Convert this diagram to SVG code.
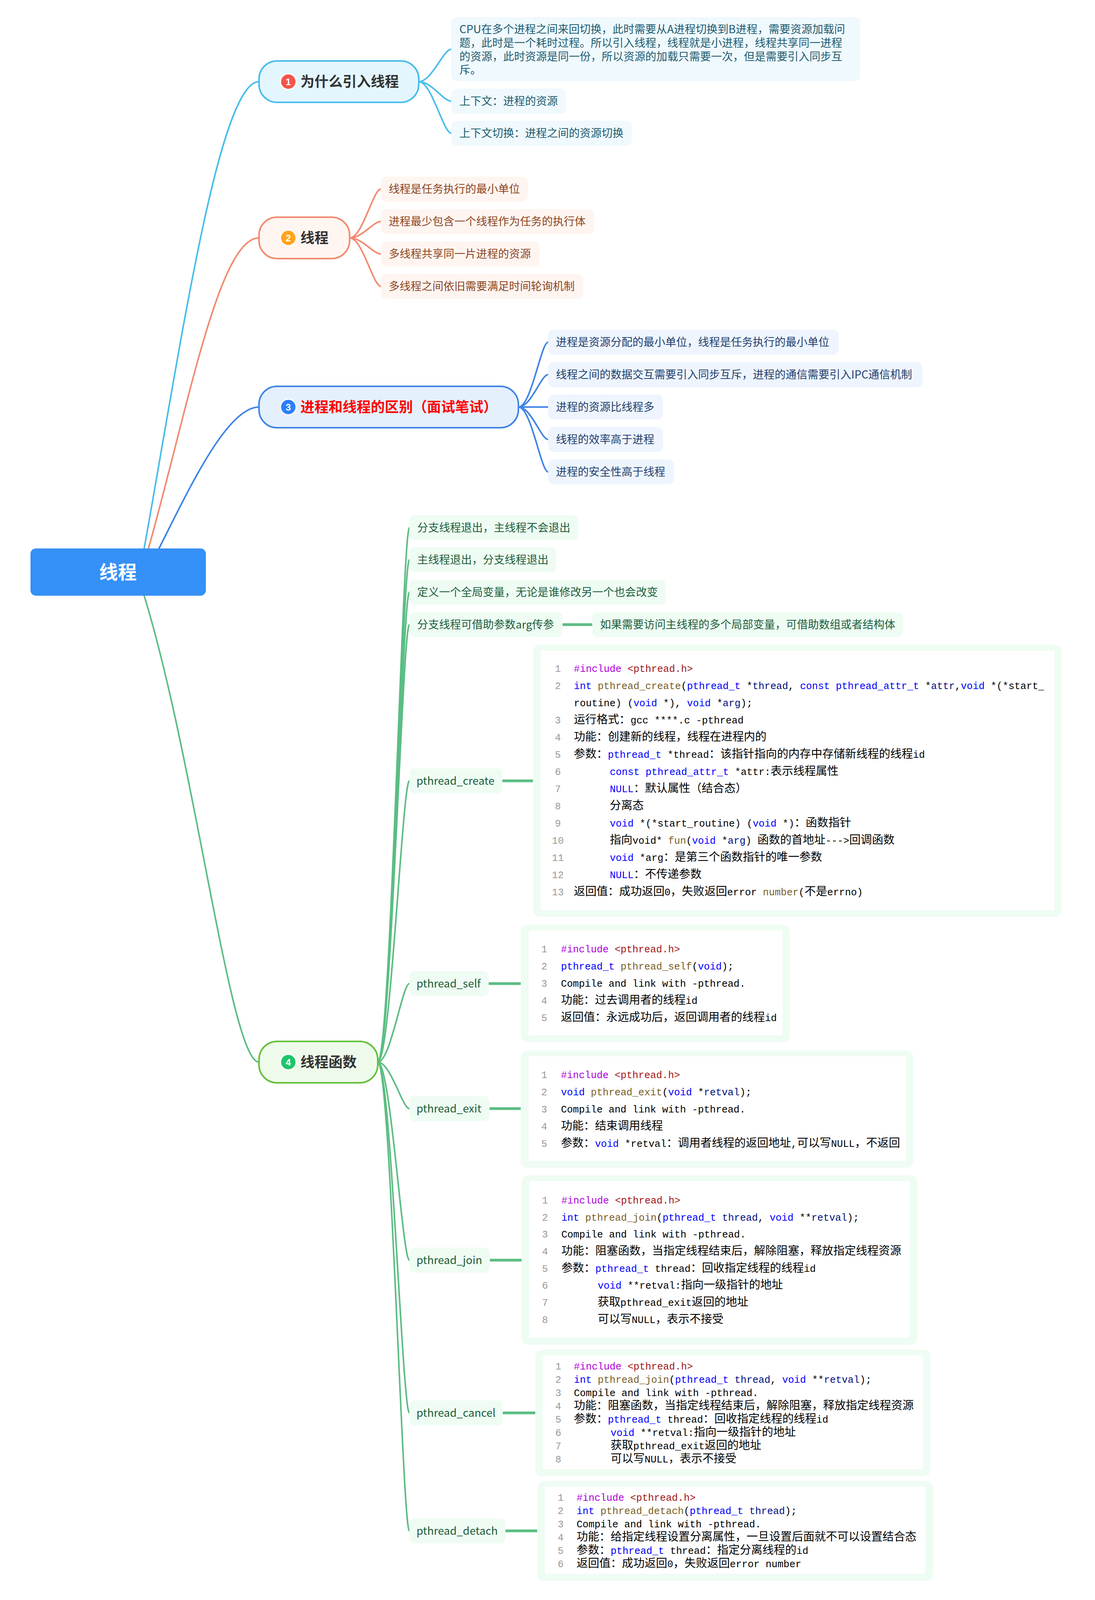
<svg xmlns="http://www.w3.org/2000/svg" width="2803" height="4297" viewBox="0 0 2803 4297">
<style>
.lk{fill:none;stroke-width:4;stroke-linecap:round}
.b1{stroke:#47bdea}.b2{stroke:#f28a6f}.b3{stroke:#3f84e6}.b4{stroke:#5bbd83}
.bar{stroke:#5bbd83;stroke-width:7}
.nt{font-family:"Noto Sans CJK SC","Noto Sans",sans-serif;font-size:36px;font-weight:bold;fill:#333}
.bd{font-family:"Liberation Sans",Arial,sans-serif;font-size:24px;font-weight:bold;fill:#fff;text-anchor:middle}
.t{font-family:"Noto Sans CJK SC","Noto Sans",sans-serif;font-size:28px}
.f1{fill:#f0f9fd}.f2{fill:#fef5f1}.f3{fill:#eef5fe}.f4{fill:#effcf3}
.c1{fill:#1b5b70}.c2{fill:#8c4521}.c3{fill:#223f6e}.c4{fill:#1b5e3b}
.c{font-family:"Liberation Mono","Noto Sans CJK SC",monospace;font-size:25.4px;fill:#000}
.ln{fill:#999;text-anchor:middle}
.z{font-family:"Noto Sans CJK SC",sans-serif;font-size:29px}
.kw{fill:#0000ff}.fn{fill:#795e26}.pm{fill:#001080}.mt{fill:#af00db}.st{fill:#a31515}
.ob{fill:#effcf3}.ib{fill:#ffffff}
</style>
<rect width="2803" height="4297" fill="#ffffff"/>
<g id="connectors">
<path class="lk b1" d="M369 1404 C460 900 560 209 663 209"/>
<path class="lk b2" d="M380 1404 C480 1050 560 609 663 609"/>
<path class="lk b3" d="M407 1404 C480 1260 580 1042 663 1042"/>
<path class="lk b4" d="M369 1525 C500 1950 590 2719 663 2719"/>
<path class="lk b1" d="M1072 209 C1105 209 1135 126 1155 126"/>
<path class="lk b1" d="M1072 209 C1105 209 1135 259 1155 259"/>
<path class="lk b1" d="M1072 209 C1105 209 1135 341 1155 341"/>
<path class="lk b2" d="M895 609 C928 609 955 484 975 484"/>
<path class="lk b2" d="M895 609 C928 609 955 567 975 567"/>
<path class="lk b2" d="M895 609 C928 609 955 650 975 650"/>
<path class="lk b2" d="M895 609 C928 609 955 733 975 733"/>
<path class="lk b3" d="M1327 1042 C1360 1042 1385 876 1403 876"/>
<path class="lk b3" d="M1327 1042 C1360 1042 1385 959 1403 959"/>
<path class="lk b3" d="M1327 1042 L1403 1042"/>
<path class="lk b3" d="M1327 1042 C1360 1042 1385 1125 1403 1125"/>
<path class="lk b3" d="M1327 1042 C1360 1042 1385 1208 1403 1208"/>
<path class="lk b4" d="M967 2719 C1000 2719 1030 1351 1048 1351"/>
<path class="lk b4" d="M967 2719 C1000 2719 1030 1433 1048 1433"/>
<path class="lk b4" d="M967 2719 C1000 2719 1030 1516 1048 1516"/>
<path class="lk b4" d="M967 2719 C1000 2719 1030 1599 1048 1599"/>
<path class="lk b4" d="M967 2719 C1000 2719 1030 1999 1048 1999"/>
<path class="lk b4" d="M967 2719 C1000 2719 1030 2518 1048 2518"/>
<path class="lk b4" d="M967 2719 C1000 2719 1030 2838 1048 2838"/>
<path class="lk b4" d="M967 2719 C1000 2719 1030 3226 1048 3226"/>
<path class="lk b4" d="M967 2719 C1000 2719 1030 3617 1048 3617"/>
<path class="lk b4" d="M967 2719 C1000 2719 1030 3919 1048 3919"/>
<line class="bar" x1="1440" y1="1599" x2="1516" y2="1599"/>
<line class="bar" x1="1286" y1="1999" x2="1364" y2="1999"/>
<line class="bar" x1="1251" y1="2518" x2="1333" y2="2518"/>
<line class="bar" x1="1253" y1="2838" x2="1333" y2="2838"/>
<line class="bar" x1="1254" y1="3226" x2="1335" y2="3226"/>
<line class="bar" x1="1287" y1="3617" x2="1370" y2="3617"/>
<line class="bar" x1="1294" y1="3919" x2="1375" y2="3919"/>
</g>
<g id="root">
<rect x="78" y="1404" width="449" height="121" rx="14" fill="#3590f7"/>
<text x="302" y="1482" font-family="Noto Sans CJK SC, sans-serif" font-size="48" font-weight="bold" fill="#fff" text-anchor="middle">线程</text>
</g>
<g id="node1">
<rect x="663" y="156" width="409" height="106" rx="46" fill="#e4f6fd" stroke="#47bdea" stroke-width="4"/>
<circle cx="738" cy="209" r="20" fill="#f4544a" stroke="#fff" stroke-width="3"/>
<text class="bd" x="738" y="217.5">1</text>
<text class="nt" x="769" y="222">为什么引入线程</text>
</g>
<g id="n1-a">
<rect class="f1" x="1155" y="44" width="1047" height="164" rx="14"/>
<text class="t c1" x="1176" y="85">CPU在多个进程之间来回切换，此时需要从A进程切换到B进程，需要资源加载问</text>
<text class="t c1" x="1176" y="120">题，此时是一个耗时过程。所以引入线程，线程就是小进程，线程共享同一进程</text>
<text class="t c1" x="1176" y="155">的资源，此时资源是同一份，所以资源的加载只需要一次，但是需要引入同步互</text>
<text class="t c1" x="1176" y="189">斥。</text>
</g>
<g id="n1-b"><rect class="f1" x="1155" y="227" width="294" height="64" rx="14"/><text class="t c1" x="1176" y="269">上下文：进程的资源</text></g>
<g id="n1-c"><rect class="f1" x="1155" y="309" width="462" height="64" rx="14"/><text class="t c1" x="1176" y="351">上下文切换：进程之间的资源切换</text></g>
<g id="node2">
<rect x="663" y="556" width="232" height="106" rx="46" fill="#fff5f1" stroke="#f28a6f" stroke-width="4"/>
<circle cx="738" cy="609" r="20" fill="#ffa41b" stroke="#fff" stroke-width="3"/>
<text class="bd" x="738" y="617.5">2</text>
<text class="nt" x="769" y="622">线程</text>
</g>
<g id="n2-a"><rect class="f2" x="975" y="452" width="376" height="64" rx="14"/><text class="t c2" x="995" y="494">线程是任务执行的最小单位</text></g>
<g id="n2-b"><rect class="f2" x="975" y="535" width="546" height="64" rx="14"/><text class="t c2" x="995" y="577">进程最少包含一个线程作为任务的执行体</text></g>
<g id="n2-c"><rect class="f2" x="975" y="618" width="406" height="64" rx="14"/><text class="t c2" x="995" y="660">多线程共享同一片进程的资源</text></g>
<g id="n2-d"><rect class="f2" x="975" y="701" width="518" height="64" rx="14"/><text class="t c2" x="995" y="743">多线程之间依旧需要满足时间轮询机制</text></g>
<g id="node3">
<rect x="663" y="989" width="664" height="106" rx="46" fill="#e5f0fd" stroke="#3f84e6" stroke-width="4"/>
<circle cx="738" cy="1042" r="20" fill="#2d7ff9" stroke="#fff" stroke-width="3"/>
<text class="bd" x="738" y="1050.5">3</text>
<text class="nt" x="769" y="1055" style="fill:#ff0000">进程和线程的区别（面试笔试）</text>
</g>
<g id="n3-a"><rect class="f3" x="1403" y="844" width="744" height="64" rx="14"/><text class="t c3" x="1423" y="886">进程是资源分配的最小单位，线程是任务执行的最小单位</text></g>
<g id="n3-b"><rect class="f3" x="1403" y="927" width="958" height="64" rx="14"/><text class="t c3" x="1423" y="969">线程之间的数据交互需要引入同步互斥，进程的通信需要引入IPC通信机制</text></g>
<g id="n3-c"><rect class="f3" x="1403" y="1010" width="294" height="64" rx="14"/><text class="t c3" x="1423" y="1052">进程的资源比线程多</text></g>
<g id="n3-d"><rect class="f3" x="1403" y="1093" width="294" height="64" rx="14"/><text class="t c3" x="1423" y="1135">线程的效率高于进程</text></g>
<g id="n3-e"><rect class="f3" x="1403" y="1176" width="322" height="64" rx="14"/><text class="t c3" x="1423" y="1218">进程的安全性高于线程</text></g>
<g id="node4">
<rect x="663" y="2666" width="304" height="106" rx="46" fill="#effbea" stroke="#63c03c" stroke-width="4"/>
<circle cx="738" cy="2719" r="20" fill="#1ec56a" stroke="#fff" stroke-width="3"/>
<text class="bd" x="738" y="2727.5">4</text>
<text class="nt" x="769" y="2732">线程函数</text>
</g>
<g id="n4-a"><rect class="f4" x="1048" y="1319" width="432" height="64" rx="14"/><text class="t c4" x="1068" y="1361">分支线程退出，主线程不会退出</text></g>
<g id="n4-b"><rect class="f4" x="1048" y="1401" width="376" height="64" rx="14"/><text class="t c4" x="1068" y="1443">主线程退出，分支线程退出</text></g>
<g id="n4-c"><rect class="f4" x="1048" y="1484" width="656" height="64" rx="14"/><text class="t c4" x="1068" y="1526">定义一个全局变量，无论是谁修改另一个也会改变</text></g>
<g id="n4-d"><rect class="f4" x="1048" y="1567" width="392" height="64" rx="14"/><text class="t c4" x="1068" y="1609">分支线程可借助参数arg传参</text></g>
<g id="n4-d1"><rect class="f4" x="1516" y="1567" width="796" height="64" rx="14"/><text class="t c4" x="1536" y="1609">如果需要访问主线程的多个局部变量，可借助数组或者结构体</text></g>
<g id="n4-create">
<rect class="f4" x="1048" y="1967" width="238" height="64" rx="14"/><text class="t c4" x="1066" y="2009">pthread_create</text>
<rect class="ob" x="1364" y="1650" width="1354" height="697" rx="18"/>
<rect class="ib" x="1384" y="1666" width="1315" height="664"/>
<g class="c">
<text class="ln" x="1428" y="1720">1</text><text class="ln" x="1428" y="1764">2</text><text class="ln" x="1428" y="1852">3</text><text class="ln" x="1428" y="1896">4</text><text class="ln" x="1428" y="1940">5</text><text class="ln" x="1428" y="1984">6</text><text class="ln" x="1428" y="2028">7</text><text class="ln" x="1428" y="2072">8</text><text class="ln" x="1428" y="2116">9</text><text class="ln" x="1428" y="2160">10</text><text class="ln" x="1428" y="2204">11</text><text class="ln" x="1428" y="2248">12</text><text class="ln" x="1428" y="2292">13</text>
<text x="1469" y="1720"><tspan class="mt">#include</tspan> <tspan class="st">&lt;pthread.h&gt;</tspan></text>
<text x="1469" y="1764"><tspan class="kw">int</tspan> <tspan class="fn">pthread_create</tspan>(<tspan class="kw">pthread_t</tspan> *<tspan class="pm">thread</tspan>, <tspan class="kw">const</tspan> <tspan class="kw">pthread_attr_t</tspan> *<tspan class="pm">attr</tspan>,<tspan class="kw">void</tspan> *(*start_</text>
<text x="1469" y="1808">routine) (<tspan class="kw">void</tspan> *), <tspan class="kw">void</tspan> *<tspan class="pm">arg</tspan>);</text>
<text x="1469" y="1852"><tspan class="z">运行格式：</tspan>gcc ****.c -pthread</text>
<text x="1469" y="1896"><tspan class="z">功能：创建新的线程，线程在进程内的</tspan></text>
<text x="1469" y="1940"><tspan class="z">参数：</tspan><tspan class="kw">pthread_t</tspan> *thread<tspan class="z">：该指针指向的内存中存储新线程的线程</tspan>id</text>
<text x="1561" y="1984"><tspan class="kw">const</tspan> <tspan class="kw">pthread_attr_t</tspan> *attr:<tspan class="z">表示线程属性</tspan></text>
<text x="1561" y="2028"><tspan class="kw">NULL</tspan><tspan class="z">：默认属性（结合态）</tspan></text>
<text x="1561" y="2072"><tspan class="z">分离态</tspan></text>
<text x="1561" y="2116"><tspan class="kw">void</tspan> *(*start_routine) (<tspan class="kw">void</tspan> *)<tspan class="z">：函数指针</tspan></text>
<text x="1561" y="2160"><tspan class="z">指向</tspan>void* <tspan class="fn">fun</tspan>(<tspan class="kw">void</tspan> *<tspan class="pm">arg</tspan>) <tspan class="z">函数的首地址</tspan>---&gt;<tspan class="z">回调函数</tspan></text>
<text x="1561" y="2204"><tspan class="kw">void</tspan> *arg<tspan class="z">：是第三个函数指针的唯一参数</tspan></text>
<text x="1561" y="2248"><tspan class="kw">NULL</tspan><tspan class="z">：不传递参数</tspan></text>
<text x="1469" y="2292"><tspan class="z">返回值：成功返回</tspan>0<tspan class="z">，失败返回</tspan>error <tspan class="fn">number</tspan>(<tspan class="z">不是</tspan>errno)</text>
</g>
</g>
<g id="n4-self">
<rect class="f4" x="1048" y="2486" width="203" height="64" rx="14"/><text class="t c4" x="1066" y="2528">pthread_self</text>
<rect class="ob" x="1333" y="2367" width="689" height="301" rx="18"/>
<rect class="ib" x="1353" y="2382" width="650" height="268"/>
<g class="c">
<text class="ln" x="1393" y="2438">1</text><text class="ln" x="1393" y="2482">2</text><text class="ln" x="1393" y="2526">3</text><text class="ln" x="1393" y="2570">4</text><text class="ln" x="1393" y="2614">5</text>
<text x="1436" y="2438"><tspan class="mt">#include</tspan> <tspan class="st">&lt;pthread.h&gt;</tspan></text>
<text x="1436" y="2482"><tspan class="kw">pthread_t</tspan> <tspan class="fn">pthread_self</tspan>(<tspan class="kw">void</tspan>);</text>
<text x="1436" y="2526">Compile and link with -pthread.</text>
<text x="1436" y="2570"><tspan class="z">功能：过去调用者的线程</tspan>id</text>
<text x="1436" y="2614"><tspan class="z">返回值：永远成功后，返回调用者的线程</tspan>id</text>
</g>
</g>
<g id="n4-exit">
<rect class="f4" x="1048" y="2806" width="205" height="64" rx="14"/><text class="t c4" x="1066" y="2848">pthread_exit</text>
<rect class="ob" x="1333" y="2689" width="1005" height="301" rx="18"/>
<rect class="ib" x="1353" y="2704" width="966" height="268"/>
<g class="c">
<text class="ln" x="1393" y="2760">1</text><text class="ln" x="1393" y="2804">2</text><text class="ln" x="1393" y="2848">3</text><text class="ln" x="1393" y="2892">4</text><text class="ln" x="1393" y="2936">5</text>
<text x="1436" y="2760"><tspan class="mt">#include</tspan> <tspan class="st">&lt;pthread.h&gt;</tspan></text>
<text x="1436" y="2804"><tspan class="kw">void</tspan> <tspan class="fn">pthread_exit</tspan>(<tspan class="kw">void</tspan> *<tspan class="pm">retval</tspan>);</text>
<text x="1436" y="2848">Compile and link with -pthread.</text>
<text x="1436" y="2892"><tspan class="z">功能：结束调用线程</tspan></text>
<text x="1436" y="2936"><tspan class="z">参数：</tspan><tspan class="kw">void</tspan> *retval<tspan class="z">：调用者线程的返回地址</tspan>,<tspan class="z">可以写</tspan>NULL<tspan class="z">，不返回</tspan></text>
</g>
</g>
<g id="n4-join">
<rect class="f4" x="1048" y="3194" width="206" height="64" rx="14"/><text class="t c4" x="1066" y="3236">pthread_join</text>
<rect class="ob" x="1335" y="3009" width="1014" height="434" rx="18"/>
<rect class="ib" x="1355" y="3024" width="974" height="400"/>
<g class="c">
<text class="ln" x="1395" y="3081">1</text><text class="ln" x="1395" y="3125">2</text><text class="ln" x="1395" y="3168">3</text><text class="ln" x="1395" y="3212">4</text><text class="ln" x="1395" y="3256">5</text><text class="ln" x="1395" y="3299">6</text><text class="ln" x="1395" y="3343">7</text><text class="ln" x="1395" y="3387">8</text>
<text x="1437" y="3081"><tspan class="mt">#include</tspan> <tspan class="st">&lt;pthread.h&gt;</tspan></text>
<text x="1437" y="3125"><tspan class="kw">int</tspan> <tspan class="fn">pthread_join</tspan>(<tspan class="kw">pthread_t</tspan> <tspan class="pm">thread</tspan>, <tspan class="kw">void</tspan> **<tspan class="pm">retval</tspan>);</text>
<text x="1437" y="3168">Compile and link with -pthread.</text>
<text x="1437" y="3212"><tspan class="z">功能：阻塞函数，当指定线程结束后，解除阻塞，释放指定线程资源</tspan></text>
<text x="1437" y="3256"><tspan class="z">参数：</tspan><tspan class="kw">pthread_t</tspan> thread<tspan class="z">：回收指定线程的线程</tspan>id</text>
<text x="1530" y="3299"><tspan class="kw">void</tspan> **retval:<tspan class="z">指向一级指针的地址</tspan></text>
<text x="1530" y="3343"><tspan class="z">获取</tspan>pthread_exit<tspan class="z">返回的地址</tspan></text>
<text x="1530" y="3387"><tspan class="z">可以写</tspan>NULL<tspan class="z">，表示不接受</tspan></text>
</g>
</g>
<g id="n4-cancel">
<rect class="f4" x="1048" y="3585" width="239" height="64" rx="14"/><text class="t c4" x="1066" y="3627">pthread_cancel</text>
<rect class="ob" x="1370" y="3455" width="1012" height="324" rx="18"/>
<rect class="ib" x="1389" y="3470" width="974" height="291"/>
<g class="c">
<text class="ln" x="1429" y="3506">1</text><text class="ln" x="1429" y="3540">2</text><text class="ln" x="1429" y="3574">3</text><text class="ln" x="1429" y="3608">4</text><text class="ln" x="1429" y="3642">5</text><text class="ln" x="1429" y="3676">6</text><text class="ln" x="1429" y="3710">7</text><text class="ln" x="1429" y="3744">8</text>
<text x="1469" y="3506"><tspan class="mt">#include</tspan> <tspan class="st">&lt;pthread.h&gt;</tspan></text>
<text x="1469" y="3540"><tspan class="kw">int</tspan> <tspan class="fn">pthread_join</tspan>(<tspan class="kw">pthread_t</tspan> <tspan class="pm">thread</tspan>, <tspan class="kw">void</tspan> **<tspan class="pm">retval</tspan>);</text>
<text x="1469" y="3574">Compile and link with -pthread.</text>
<text x="1469" y="3608"><tspan class="z">功能：阻塞函数，当指定线程结束后，解除阻塞，释放指定线程资源</tspan></text>
<text x="1469" y="3642"><tspan class="z">参数：</tspan><tspan class="kw">pthread_t</tspan> thread<tspan class="z">：回收指定线程的线程</tspan>id</text>
<text x="1563" y="3676"><tspan class="kw">void</tspan> **retval:<tspan class="z">指向一级指针的地址</tspan></text>
<text x="1563" y="3710"><tspan class="z">获取</tspan>pthread_exit<tspan class="z">返回的地址</tspan></text>
<text x="1563" y="3744"><tspan class="z">可以写</tspan>NULL<tspan class="z">，表示不接受</tspan></text>
</g>
</g>
<g id="n4-detach">
<rect class="f4" x="1048" y="3887" width="246" height="64" rx="14"/><text class="t c4" x="1066" y="3929">pthread_detach</text>
<rect class="ob" x="1375" y="3791" width="1014" height="256" rx="18"/>
<rect class="ib" x="1395" y="3806" width="974" height="223"/>
<g class="c">
<text class="ln" x="1435" y="3842">1</text><text class="ln" x="1435" y="3876">2</text><text class="ln" x="1435" y="3910">3</text><text class="ln" x="1435" y="3944">4</text><text class="ln" x="1435" y="3978">5</text><text class="ln" x="1435" y="4012">6</text>
<text x="1476" y="3842"><tspan class="mt">#include</tspan> <tspan class="st">&lt;pthread.h&gt;</tspan></text>
<text x="1476" y="3876"><tspan class="kw">int</tspan> <tspan class="fn">pthread_detach</tspan>(<tspan class="kw">pthread_t</tspan> <tspan class="pm">thread</tspan>);</text>
<text x="1476" y="3910">Compile and link with -pthread.</text>
<text x="1476" y="3944"><tspan class="z">功能：给指定线程设置分离属性，一旦设置后面就不可以设置结合态</tspan></text>
<text x="1476" y="3978"><tspan class="z">参数：</tspan><tspan class="kw">pthread_t</tspan> thread<tspan class="z">：指定分离线程的</tspan>id</text>
<text x="1476" y="4012"><tspan class="z">返回值：成功返回</tspan>0<tspan class="z">，失败返回</tspan>error number</text>
</g>
</g>
</svg>
